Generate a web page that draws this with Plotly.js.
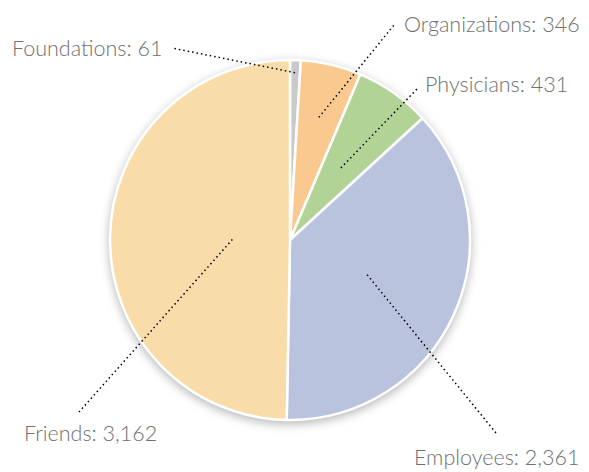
<!DOCTYPE html>
<html>
<head>
<meta charset="utf-8">
<script src="https://cdn.plot.ly/plotly-3.0.1.min.js"></script>
<style>
html,body{margin:0;padding:0;background:#fff;}
#chart{width:589px;height:472px;}
.pielayer .trace{filter:drop-shadow(0px 3px 5px rgba(0,0,0,0.28));}
</style>
</head>
<body>
<div id="chart"></div>
<script>
// Data
const categories = ["Foundations", "Organizations", "Physicians", "Employees", "Friends"];
const values = [61, 346, 431, 2361, 3162];
const colors = ["#c9c9c9", "#f9c98f", "#b2d396", "#b9c3dd", "#f8dcaa"];

// Layout / style (pixels in a 589x472 page)
const W = 589, H = 472;
const cx = 290, cy = 240, R = 180;
const innerFrac = [0.93, 0.70, 0.49, 0.47, 0.32];
const labelPos = [ // [x, y, xanchor] for label text
  [164, 48, "right"],
  [402, 24, "left"],
  [423, 84, "left"],
  [412, 457, "left"],
  [22, 433, "left"]
];
const lineEnd = [[172, 48], [394, 25], [417, 89], [496, 433], [79, 412]];

const px = x => x / W;
const py = y => 1 - y / H;

const total = values.reduce((a, b) => a + b, 0);
let cum = 0;
const shapes = [], annotations = [];
values.forEach((v, i) => {
  const mid = (cum + v / 2) / total * 2 * Math.PI; // clockwise from top
  cum += v;
  const r = innerFrac[i] * R;
  const ix = cx + r * Math.sin(mid), iy = cy - r * Math.cos(mid);
  shapes.push({
    type: "line", xref: "paper", yref: "paper",
    x0: px(ix), y0: py(iy), x1: px(lineEnd[i][0]), y1: py(lineEnd[i][1]),
    line: {color: "#000", width: 1.5, dash: "1.5px,3px"}
  });
  annotations.push({
    xref: "paper", yref: "paper", x: px(labelPos[i][0]), y: py(labelPos[i][1]),
    xanchor: labelPos[i][2], yanchor: "middle", showarrow: false,
    text: categories[i] + ": " + v.toLocaleString("en-US"),
    font: {family: "Lato, 'Noto Sans', sans-serif", size: 21.5, weight: 300, color: "#707070"}
  });
});

const trace = {
  type: "pie",
  labels: categories,
  values: values,
  sort: false,
  direction: "clockwise",
  rotation: 0,
  textinfo: "none",
  hoverinfo: "label+value",
  marker: {colors: colors, line: {color: "#ffffff", width: 2.5}},
  domain: {x: [px(cx - R), px(cx + R)], y: [py(cy + R), py(cy - R)]},
  showlegend: false
};

const layout = {
  width: W, height: H,
  margin: {l: 0, r: 0, t: 0, b: 0},
  paper_bgcolor: "#ffffff",
  showlegend: false,
  shapes: shapes,
  annotations: annotations
};

Plotly.newPlot("chart", [trace], layout, {displayModeBar: false, staticPlot: true});
</script>
</body>
</html>
